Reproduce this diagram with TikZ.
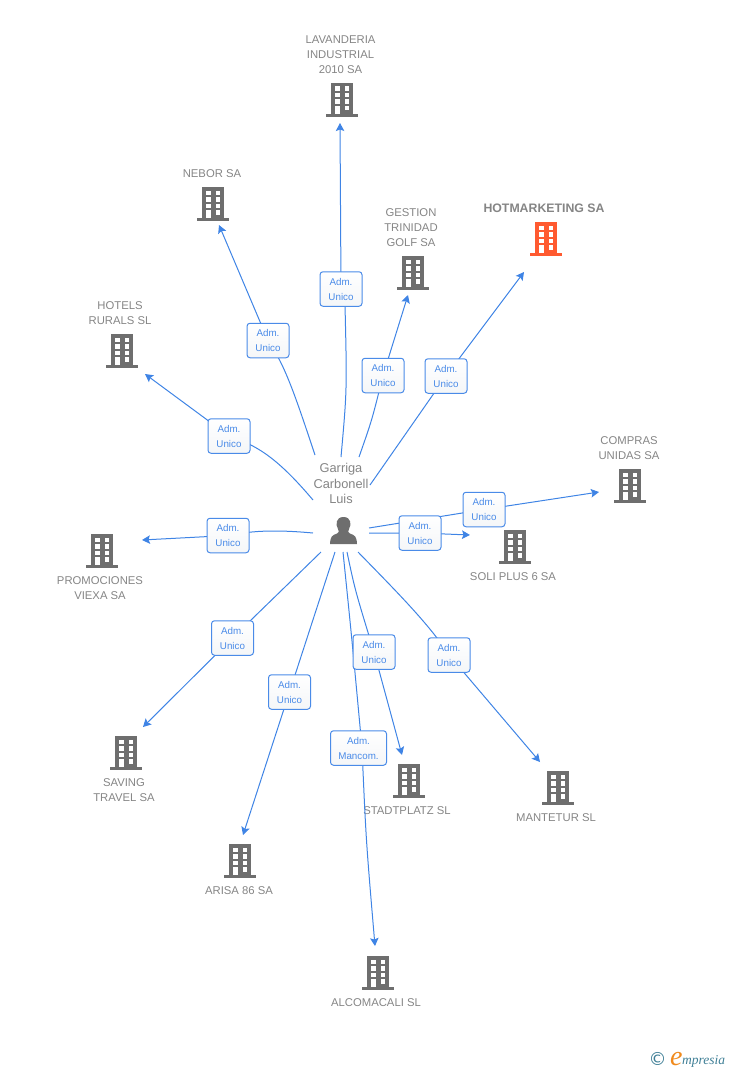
\documentclass[tikz,border=0pt]{standalone}
\usepackage{fontspec}
\setmainfont{Liberation Sans}
\newfontfamily\logofont{Liberation Serif}
\newfontfamily\symfont{DejaVu Sans}
\usetikzlibrary{arrows.meta}
\definecolor{edgeblue}{HTML}{3F84E5}
\definecolor{boxblue}{HTML}{4A8BE8}
\definecolor{bldgray}{HTML}{6E6E6E}
\definecolor{txtgray}{HTML}{858585}
\definecolor{hotred}{HTML}{FF5A30}
\definecolor{logoteal}{HTML}{3F7F96}
\definecolor{logoorange}{HTML}{F08A1D}
\definecolor{boxshade}{HTML}{F4F6F8}
\tikzset{
  x=1pt,y=-1pt,
  edge/.style={draw=edgeblue,line width=1pt,-{Stealth[length=8pt,width=8.5pt,inset=1.5pt]}},
  rolebox/.style={draw=boxblue,line width=1pt,rounded corners=3pt,top color=white,bottom color=boxshade,
    minimum width=42pt,minimum height=34.5pt,inner sep=0pt,align=center,text=boxblue,
    font=\fontsize{9.8}{15}\selectfont},
  lbl/.style={text=txtgray,align=center,inner sep=0pt,font=\fontsize{11.3}{15}\selectfont},
  pics/bld/.style={code={
    \fill[#1] (-11,-17) rectangle (11,14);
    \fill[#1] (-16,14) rectangle (16,17);
    \foreach \r in {-13.5,-7,-0.5}{
      \fill[white] (-7,\r) rectangle (-2.5,\r+4.5);
      \fill[white] (2.5,\r) rectangle (7,\r+4.5);
    }
    \fill[white] (-7,6) rectangle (-2.5,14);
    \fill[white] (2.5,6) rectangle (7,10.5);
  }},
  pics/bld/.default=bldgray
}
\begin{document}
\begin{tikzpicture}
\useasboundingbox (0,0) rectangle (728,1070);
% person
\node[lbl,font=\fontsize{12.8}{15.2}\selectfont] (person) at (341,483.5) {Garriga\\Carbonell\\Luis};
\coordinate (pc) at (343,531);
\fill[bldgray] (343.5,517) .. controls (335.5,517) and (335.5,525) .. (338,529) .. controls (339.5,531.5) and (339,532.5) .. (337,533.5)
  .. controls (332,535.5) and (330.5,536) .. (330,544) -- (357,544) .. controls (356.5,536) and (355,535.5) .. (350,533.5)
  .. controls (348,532.5) and (347.5,531.5) .. (349,529) .. controls (351.5,525) and (351.5,517) .. (343.5,517) -- cycle;
% buildings
\pic at (342,100) {bld};
\pic at (213,204) {bld};
\pic at (413,273) {bld};
\pic at (546,239) {bld=hotred};
\pic at (122,351) {bld};
\pic at (630,486) {bld};
\pic at (515,547) {bld};
\pic at (102,551) {bld};
\pic at (126,753) {bld};
\pic at (240,861) {bld};
\pic at (409,781) {bld};
\pic at (558,788) {bld};
\pic at (378,973) {bld};
% labels
\node[lbl] (lLav) at (340.5,54.5) {LAVANDERIA\\INDUSTRIAL\\2010 SA};
\node[lbl] (lNeb) at (212,173.5) {NEBOR SA};
\node[lbl] (lGes) at (411,227.5) {GESTION\\TRINIDAD\\GOLF SA};
\node[lbl,font=\fontsize{12.3}{15}\selectfont\bfseries] (lHot) at (544,208) {HOTMARKETING SA};
\node[lbl] (lHR) at (120,313.5) {HOTELS\\RURALS SL};
\node[lbl] (lCom) at (629,448.5) {COMPRAS\\UNIDAS SA};
\node[lbl] (lSol) at (513,576.5) {SOLI PLUS 6 SA};
\node[lbl] (lPro) at (100,588.5) {PROMOCIONES\\VIEXA SA};
\node[lbl] (lSav) at (124,790.5) {SAVING\\TRAVEL SA};
\node[lbl] (lAri) at (239,890.5) {ARISA 86 SA};
\node[lbl] (lSta) at (407,810.5) {STADTPLATZ SL};
\node[lbl] (lMan) at (556,817.5) {MANTETUR SL};
\node[lbl] (lAlc) at (376,1002.5) {ALCOMACALI SL};
% free ends
\coordinate (sA) at (341,457); \coordinate (eA) at (340,123);
\coordinate (sB) at (315,455); \coordinate (eB) at (219,225);
\coordinate (sC) at (359,457); \coordinate (eC) at (408,295);
\coordinate (sD) at (370,485); \coordinate (eD) at (524,272);
\coordinate (sE) at (313,500); \coordinate (eE) at (145,374);
\coordinate (sF) at (313,533); \coordinate (eF) at (142,540);
\coordinate (sG) at (321,552); \coordinate (eG) at (143,727);
\coordinate (sH) at (335,552); \coordinate (eH) at (243,835);
\coordinate (sI) at (343,552); \coordinate (eI) at (375,946);
\coordinate (sJ) at (347,552); \coordinate (eJ) at (402,755);
\coordinate (sK) at (358,552); \coordinate (eK) at (540,762);
\coordinate (sL) at (369,533); \coordinate (eL) at (470,535);
\coordinate (sM) at (369,528); \coordinate (eM) at (599,492);
% role boxes positions
\coordinate (bA) at (341,289);
\coordinate (bB) at (268,340.5);
\coordinate (bC) at (383,375.5);
\coordinate (bD) at (446,376);
\coordinate (bE) at (229,436);
\coordinate (bF) at (228,535.5);
\coordinate (bG) at (232.5,638);
\coordinate (bH) at (289.5,692);
\coordinate (bI) at (358.5,748);
\coordinate (vI) at (362,748);
\coordinate (vA) at (345,305);
\coordinate (bJ) at (374,652);
\coordinate (bK) at (449,655);
\coordinate (bL) at (420,533);
\coordinate (bM) at (484,509.5);
% connectors
\draw[edge] (sA) .. controls (347,390) .. (vA) -- (bA) -- (eA);
\draw[edge] (sB) .. controls (295,395) and (285,365) .. (bB) -- (eB);
\draw[edge] (sC) .. controls (372,420) .. (bC) -- (eC);
\draw[edge] (sD) -- (bD) -- (eD);
\draw[edge] (sE) .. controls (275,455) and (255,445) .. (bE) -- (eE);
\draw[edge] (sF) .. controls (280,530) and (255,530) .. (bF) -- (eF);
\draw[edge] (sG) -- (bG) -- (eG);
\draw[edge] (sH) -- (bH) -- (eH);
\draw[edge] (sI) .. controls (352,640) .. (vI) .. controls (366,840) .. (eI);
\draw[edge] (sJ) .. controls (355,590) .. (bJ) -- (eJ);
\draw[edge] (sK) .. controls (395,590) and (430,625) .. (bK) -- (eK);
\draw[edge] (sL) -- (bL) -- (eL);
\draw[edge] (sM) -- (bM) -- (eM);
% boxes
\foreach \n in {A,B,C,D,E,F,G,H,J,K,L,M}{
  \node[rolebox] (box\n) at (b\n) {Adm.\\Unico};
}
\node[rolebox,minimum width=56pt] (boxI) at (bI) {Adm.\\Mancom.};
% logo
\node[inner sep=0pt,text=logoteal,font=\symfont\fontsize{18}{18}\selectfont] (copy) at (657.5,1059) {©};
\node[inner sep=0pt,anchor=base west,text=logoorange,font=\logofont\itshape\fontsize{28}{28}\selectfont] (logoe) at (670,1065) {e};
\node[inner sep=0pt,anchor=base west,text=logoteal,font=\logofont\itshape\fontsize{13.5}{14}\selectfont] (logot) at (682,1064) {mpresia};
\end{tikzpicture}
\end{document}
